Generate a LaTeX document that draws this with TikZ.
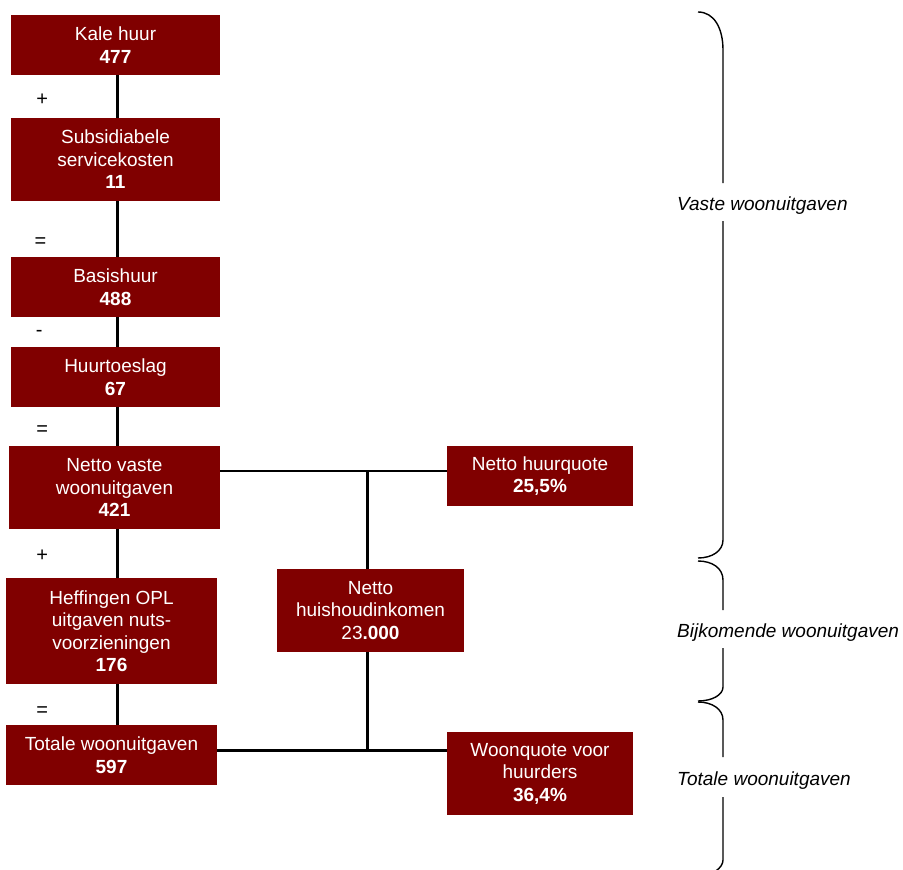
\documentclass[tikz,border=0pt]{standalone}
\usepackage{fontspec}
\setmainfont{Liberation Sans}
\definecolor{boxred}{RGB}{128,0,0}
\begin{document}
\begin{tikzpicture}[x=1pt,y=-1pt,
  box/.style={fill=boxred, text=white, align=center, inner sep=0pt,
    font=\fontsize{19}{22.5}\selectfont},
  conn/.style={line width=2.6pt, black},
  brace/.style={line width=1.4pt, black},
  sign/.style={inner sep=0pt, font=\fontsize{20}{22.5}\selectfont},
  blabel/.style={anchor=base west, inner sep=0pt, font=\fontsize{19}{22.5}\selectfont\itshape}]
\useasboundingbox (0,0) rectangle (903,870);
\clip (0,0) rectangle (903,870);

% left column
\node[box, minimum width=209pt, minimum height=60pt] (kale) at (115.5,45) {Kale huur\\\textbf{477}};
\node[box, minimum width=209pt, minimum height=83pt] (subs) at (115.5,159.5) {Subsidiabele\\servicekosten\\\textbf{11}};
\node[box, minimum width=209pt, minimum height=60pt] (basis) at (115.5,287) {Basishuur\\\textbf{488}};
\node[box, minimum width=209pt, minimum height=60pt] (huurt) at (115.5,377) {Huurtoeslag\\\textbf{67}};
\node[box, minimum width=211pt, minimum height=83pt] (netto) at (114.5,487.5) {Netto vaste\\woonuitgaven\\\textbf{421}};
\node[box, minimum width=211pt, minimum height=106pt] (heff) at (111.5,631) {Heffingen OPL\\uitgaven nuts-\\voorzieningen\\\textbf{176}};
\node[box, minimum width=211pt, minimum height=60pt] (tot) at (111.5,755) {Totale woonuitgaven\\\textbf{597}};

% right column
\node[box, minimum width=186pt, minimum height=60pt] (huurq) at (540,476) {Netto huurquote\\\textbf{25,5\%}};
\node[box, minimum width=187pt, minimum height=83pt] (ink) at (370.5,610.5) {Netto\\huishoudinkomen\\23\textbf{.000}};
\node[box, minimum width=186pt, minimum height=83pt] (wq) at (540,773.5) {Woonquote voor\\huurders\\\textbf{36,4\%}};

% signs
\node[sign] (s1) at (42.3,99.5) {+};
\node[sign] (s2) at (40.5,243) {=};
\node[sign] (s3) at (39.3,333.3) {-};
\node[sign] (s4) at (42.3,430.7) {=};
\node[sign] (s5) at (42.3,556) {+};
\node[sign] (s6) at (42.3,711.7) {=};

% connectors
\coordinate (spine) at (117.5,0);
\coordinate (j1) at (367.3,471);
\coordinate (j2) at (367.3,750.3);
\draw[conn] (kale.south -| spine) -- (subs.north -| spine);
\draw[conn] (subs.south -| spine) -- (basis.north -| spine);
\draw[conn] (basis.south -| spine) -- (huurt.north -| spine);
\draw[conn] (huurt.south -| spine) -- (netto.north -| spine);
\draw[conn] (netto.south -| spine) -- (heff.north -| spine);
\draw[conn] (heff.south -| spine) -- (tot.north -| spine);
\draw[conn] (netto.east |- j1) -- (huurq.west |- j1);
\draw[conn] (j1) -- (ink.north -| j1);
\draw[conn] (ink.south -| j2) -- (j2);
\draw[conn] (tot.east |- j2) -- (wq.west |- j2);

% braces
\draw[brace] (698,12) .. controls (714,12) and (723,28) .. (723,50) -- (723,183);
\draw[brace] (723,221) -- (723,540) .. controls (723,551) and (712,558) .. (698,558);
\draw[brace] (698,561) .. controls (712,561) and (723,568) .. (723,580) -- (723,610);
\draw[brace] (723,648) -- (723,687) .. controls (723,695) and (712,701) .. (698,701);
\draw[brace] (698,702) .. controls (712,702) and (723,709) .. (723,720) -- (723,757);
\draw[brace] (723,797) -- (723,860) .. controls (723,868) and (712,876) .. (698,876);

\node[blabel] (l1) at (677,210.7) {Vaste woonuitgaven};
\node[blabel] (l2) at (677,637.5) {Bijkomende woonuitgaven};
\node[blabel] (l3) at (677,785) {Totale woonuitgaven};
\end{tikzpicture}
\end{document}
